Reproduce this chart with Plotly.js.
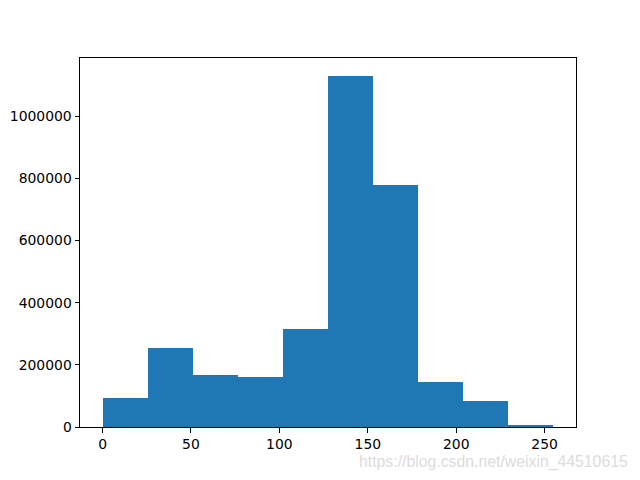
<!DOCTYPE html>
<html>
<head>
<meta charset="utf-8">
<script src="https://cdn.plot.ly/plotly-3.0.1.min.js"></script>
<style>html,body{margin:0;padding:0;background:#fff;}#chart{width:640px;height:480px;}</style>
</head>
<body>
<div id="chart"></div>
<script>
// Histogram of pixel values, 10 bins from 0 to 255
const binEdges = [0, 25.5, 51, 76.5, 102, 127.5, 153, 178.5, 204, 229.5, 255];
const counts = [93000, 254000, 167000, 161000, 315000, 1131000, 778000, 145000, 84000, 7500];
const xTicks = [0, 50, 100, 150, 200, 250];
const yTicks = [0, 200000, 400000, 600000, 800000, 1000000];
const watermark = "https://blog.csdn.net/weixin_44510615";

const lefts = binEdges.slice(0, -1);
const widths = lefts.map((e, i) => binEdges[i + 1] - e);
const xmin = binEdges[0], xmax = binEdges[binEdges.length - 1];
const pad = (xmax - xmin) * 0.05;
const ymax = Math.max(...counts) * 1.05;

const font = {family: "DejaVu Sans", size: 13.9, color: "#000"};

Plotly.newPlot("chart", [{
  type: "bar",
  x: lefts,
  y: counts,
  width: widths,
  offset: 0,
  marker: {color: "#1f77b4", line: {width: 0}},
  hoverinfo: "skip"
}], {
  width: 640, height: 480,
  margin: {l: 80, r: 64, t: 58, b: 53},
  paper_bgcolor: "#fff", plot_bgcolor: "#fff",
  showlegend: false,
  bargap: 0,
  font: font,
  xaxis: {
    range: [xmin - pad, xmax + pad],
    tickvals: xTicks, ticktext: xTicks.map(String),
    ticks: "outside", ticklen: 4.5, tickwidth: 1, tickcolor: "#000",
    showgrid: false, zeroline: false,
    showline: true, linecolor: "#000", linewidth: 1, mirror: true,
    tickfont: font
  },
  yaxis: {
    range: [0, ymax],
    tickvals: yTicks, ticktext: yTicks.map(String),
    ticks: "outside", ticklen: 4.5, tickwidth: 1, tickcolor: "#000",
    showgrid: false, zeroline: false,
    showline: true, linecolor: "#000", linewidth: 1, mirror: true,
    tickfont: font
  },
  annotations: [{
    text: watermark, xref: "paper", yref: "paper",
    x: 1, y: 0, xanchor: "right", yanchor: "middle",
    xshift: 54, yshift: -35, showarrow: false,
    font: {family: "Liberation Sans", size: 15.8, color: "#dcdcdc"}
  }]
}, {staticPlot: true, displayModeBar: false});
</script>
</body>
</html>
